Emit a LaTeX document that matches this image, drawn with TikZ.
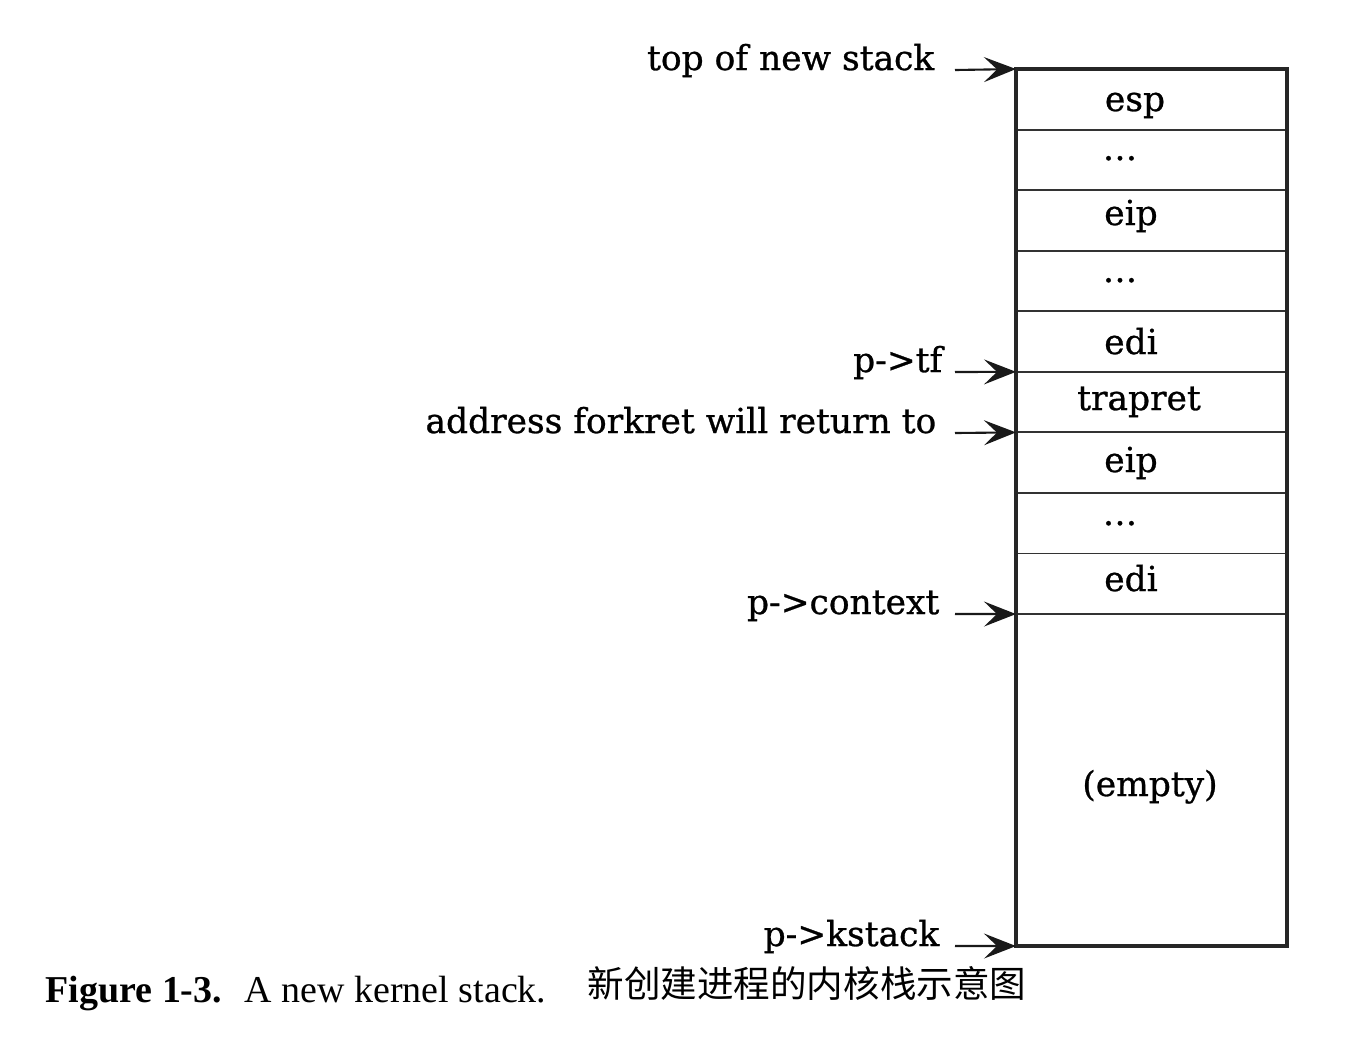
\documentclass[tikz,border=0pt]{standalone}
\usepackage{fontspec}
\setmainfont{Liberation Serif}
\newfontfamily\slabfont[FakeBold=0.8]{DejaVu Serif}
\newfontfamily\cjk{Noto Sans CJK SC}
\usetikzlibrary{arrows.meta}
\usetikzlibrary{positioning}

\tikzset{
  cell/.style={draw=black!80, line width=0.55pt, outer sep=0pt, inner sep=0pt,
    minimum width=27.1mm, minimum height=6.056mm},
  celltext/.style={anchor=base, inner sep=0pt,
    font=\slabfont\fontsize{9.8pt}{12pt}\selectfont},
  ptrlabel/.style={anchor=base east, inner sep=0pt,
    font=\slabfont\fontsize{9.8pt}{12pt}\selectfont},
  ptr/.style={-{Stealth[length=3.2mm,width=2.5mm,inset=1.3mm]},
    line width=0.6pt, draw=black!90},
}

\begin{document}
\begin{tikzpicture}[x=0.1mm,y=-0.1mm]
  \useasboundingbox (0,0) rectangle (1354,1040);

  % the stack rows
  \node[cell] (c1) at (1151.5,99.3) {};
  \foreach \i [remember=\i as \j (initially 1)] in {2,...,9}
    \node[cell, below=0pt of c\j] (c\i) {};
  \node[cell, minimum height=33.2mm, below=0pt of c9] (c10) {};
  \draw[line width=0.9pt, black!85]
    (c1.north west)
    rectangle
    (c10.south east);

  % what is in the rows
  \foreach \txt/\tx/\ty [count=\i] in
    {esp/1135/111, \ldots/1120/160, eip/1131/225, \ldots/1120/282,
     edi/1131/354, trapret/1139/410, eip/1131/472, \ldots/1120/525,
     edi/1131/591, (empty)/1150/796}
    \node[celltext] (t\i) at (\tx,\ty) {\txt};

  % pointers into the stack
  \coordinate (atop) at (955,70);
  \coordinate (atf) at (955,372);
  \coordinate (aret) at (955,433);
  \coordinate (actx) at (955,614);
  \coordinate (akst) at (955,946);
  \node[ptrlabel] (ltop) at ([xshift=-2mm]atop) {top of new stack};
  \node[ptrlabel] (ltf) at ([xshift=-1.2mm]atf) {p->tf};
  \node[ptrlabel] (lret) at ([xshift=-1.8mm]aret) {address forkret will return to};
  \node[ptrlabel] (lctx) at ([xshift=-1.5mm]actx) {p->context};
  \node[ptrlabel] (lkst) at ([xshift=-1.5mm]akst) {p->kstack};
  \draw[ptr] (atop) -- (c1.north west);
  \draw[ptr] (atf) -- (c6.north west);
  \draw[ptr] (aret) -- (c7.north west);
  \draw[ptr] (actx) -- (c10.north west);
  \draw[ptr] (akst) -- (c10.south west);

  % captions
  \node[anchor=base west, inner sep=0pt,
    font=\fontsize{10.8pt}{13pt}\selectfont] (caption) at (45,1002)
    {\textbf{Figure 1-3.}\hspace{0.6em}A new kernel stack.};
  \node[inner sep=0pt, font=\cjk\fontsize{10.4pt}{12pt}\selectfont]
    (capzh) at (807,983) {新创建进程的内核栈示意图};
\end{tikzpicture}
\end{document}
